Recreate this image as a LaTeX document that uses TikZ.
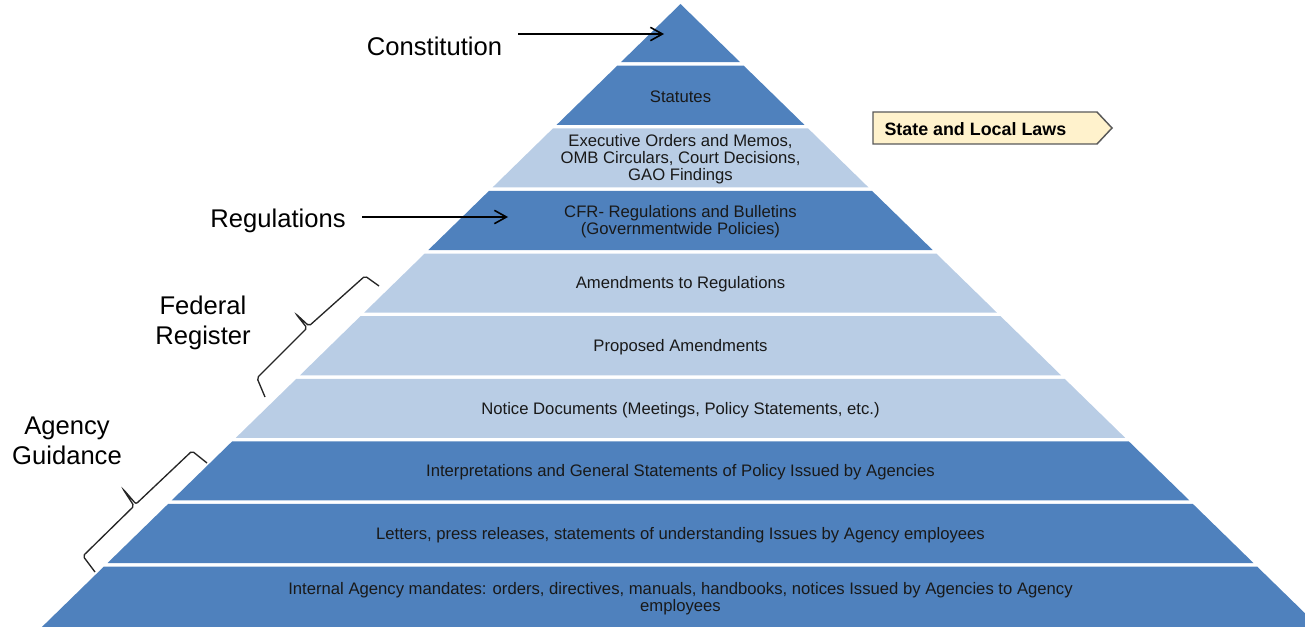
\documentclass[tikz,border=0pt]{standalone}
\usepackage{fontspec}
\setmainfont{Liberation Sans}
\usepackage{tikz}
\usetikzlibrary{arrows.meta}
\tikzset{every picture/.style={line width=0.75pt}}
\definecolor{darkLayer}{RGB}{79,129,189}
\definecolor{lightLayer}{RGB}{185,205,229}
\definecolor{lawFill}{RGB}{255,242,204}
\definecolor{lawLine}{RGB}{89,89,89}
\tikzset{
  layer text/.style={inner sep=0pt, align=center, text=black!90, font=\fontsize{12.5}{12.75}\selectfont},
  side label/.style={inner sep=0pt, align=center, font=\fontsize{19.2}{22.5}\selectfont},
  pointer/.style={line width=1.2pt, -{Straight Barb[length=9pt,width=10pt,line width=1.2pt]}},
  brace line/.style={line width=1pt, black!85, rounded corners=1.5pt}
}

\begin{document}
\begin{tikzpicture}[x=0.75pt,y=0.75pt,yscale=-1,xscale=1]
		\clip (0,0) rectangle (1305,627);
		\useasboundingbox (0,0) rectangle (1305,627);
		
		%Shape: Triangle (top)
		\fill [darkLayer] (680.5,4) -- (740.2,62.25) -- (620.8,62.25) -- cycle ;
		%Shape: Trapezoid
		\fill [darkLayer] (617.2,65.75) -- (743.8,65.75) -- (804.4,124.85) -- (556.6,124.85) -- cycle ;
		%Shape: Trapezoid
		\fill [lightLayer] (553.0,128.35) -- (808.0,128.35) -- (868.5,187.45) -- (492.5,187.45) -- cycle ;
		%Shape: Trapezoid
		\fill [darkLayer] (488.9,190.95) -- (872.1,190.95) -- (932.7,250.05) -- (428.3,250.05) -- cycle ;
		%Shape: Trapezoid
		\fill [lightLayer] (424.7,253.55) -- (936.3,253.55) -- (996.9,312.65) -- (364.1,312.65) -- cycle ;
		%Shape: Trapezoid
		\fill [lightLayer] (360.5,316.15) -- (1000.5,316.15) -- (1061.0,375.25) -- (300.0,375.25) -- cycle ;
		%Shape: Trapezoid
		\fill [lightLayer] (296.4,378.75) -- (1064.6,378.75) -- (1125.2,437.85) -- (235.8,437.85) -- cycle ;
		%Shape: Trapezoid
		\fill [darkLayer] (232.2,441.35) -- (1128.8,441.35) -- (1189.4,500.45) -- (171.6,500.45) -- cycle ;
		%Shape: Trapezoid
		\fill [darkLayer] (168.1,503.95) -- (1192.9,503.95) -- (1253.5,563.05) -- (107.5,563.05) -- cycle ;
		%Shape: Trapezoid (base)
		\fill [darkLayer] (103.9,566.55) -- (1257.1,566.55) -- (1319.1,627) -- (41.9,627) -- cycle ;
		
		% Text Node
		\node [layer text] (statutes) at (680.5,96.8) {Statutes};
		% Text Node
		\node [layer text] (executive) at (680.5,159.2) {Executive Orders and Memos,\\OMB Circulars, Court Decisions,\\GAO Findings};
		% Text Node
		\node [layer text] (cfr) at (680.5,222) {CFR- Regulations and Bulletins\\(Governmentwide Policies)};
		% Text Node
		\node [layer text] (amendments) at (680.5,284.6) {Amendments to Regulations};
		% Text Node
		\node [layer text] (proposed) at (680.5,347.2) {Proposed Amendments};
		% Text Node
		\node [layer text] (notice) at (680.5,409.8) {Notice Documents (Meetings, Policy Statements, etc.)};
		% Text Node
		\node [layer text] (interpretations) at (680.5,472.4) {Interpretations and General Statements of Policy Issued by Agencies};
		% Text Node
		\node [layer text] (letters) at (680.5,535) {Letters, press releases, statements of understanding Issues by Agency employees};
		% Text Node
		\node [layer text] (internal) at (680.5,598.2) {Internal Agency mandates: orders, directives, manuals, handbooks, notices Issued by Agencies to Agency\\employees};
		
		%Shape: Pentagon arrow
		\draw [lawLine, fill=lawFill, line width=1.1pt] (873,112) -- (1097,112) -- (1112,128) -- (1097,144) -- (873,144) -- cycle ;
		% Text Node
		\node [anchor=west, inner sep=0pt, font=\fontsize{13.4}{15}\selectfont\bfseries] (stateLaws) at (884,129.3) {State and Local Laws};
		
		% Text Node
		\node [side label] (constitution) at (434.5,46) {Constitution};
		% Text Node
		\node [side label] (regulations) at (278,220.5) {Regulations};
		% Text Node
		\node [side label] (federal) at (203,322.8) {Federal\\Register};
		% Text Node
		\node [side label] (agency) at (67,441) {Agency\\Guidance};
		
		%Straight Lines
		\coordinate (constStart) at (518,34);
		\coordinate (constEnd) at (664,34);
		\draw [pointer] (constStart) -- (constEnd) ;
		%Straight Lines
		\coordinate (regStart) at (362,217);
		\coordinate (regEnd) at (508,217);
		\draw [pointer] (regStart) -- (regEnd) ;
		
		%Curve Lines (brace)
		\draw [brace line] (379,286) -- (365,276) -- (309,326) -- (296,314) -- (307,328) -- (257,378) -- (265,397) ;
		%Curve Lines (brace)
		\draw [brace line] (207,463) -- (192,451) -- (136,504) -- (123,489) -- (134,506) -- (83,556) -- (95,572) ;
		
	\end{tikzpicture}
\end{document}
